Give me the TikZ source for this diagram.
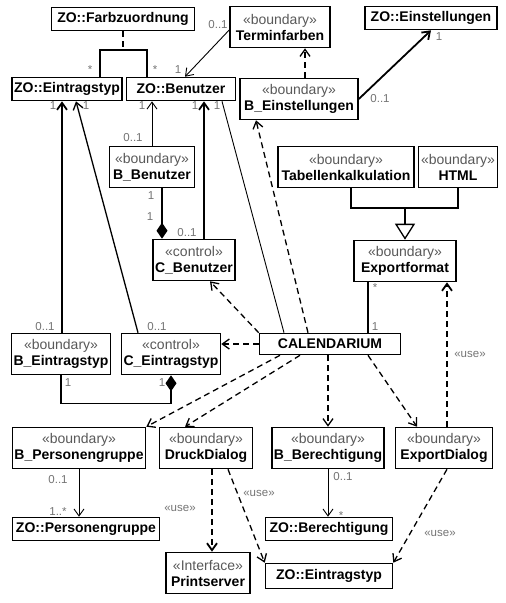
\documentclass[tikz,border=0pt]{standalone}
\usepackage{fontspec}
\setmainfont{Liberation Sans}
\usetikzlibrary{arrows.meta}
\newcommand\namefont{\fontsize{14}{16}\selectfont\bfseries}
\newcommand\stfont{\fontsize{14}{16}\selectfont\mdseries\color{black!65}}
\newcommand\stereo[2]{{\stfont«#1»}\\#2}

\begin{document}
\begin{tikzpicture}[x=1pt,y=-1pt,
  >={Straight Barb[length=7pt,width=10pt]},
  cls/.style={draw,line width=1.6pt,fill=white,font=\namefont,inner xsep=2pt,inner ysep=1pt,minimum height=23pt,minimum width=#1},
  cls/.default=0pt,
  scls/.style={cls=#1,align=center,minimum height=41pt},
  assoc/.style={line width=0.9pt},
  strong/.style={line width=1.8pt},
  dep/.style={line width=1.3pt,dash pattern=on 6pt off 4pt},
  usedep/.style={dep,line width=1.8pt},
  mult/.style={font=\fontsize{11.5}{12}\selectfont,text=black!55,inner sep=0pt},
  comp/.style={assoc,line width=1.3pt,{Diamond[length=16pt,width=11pt]}-},
  gen/.style={line width=1.3pt,-{Triangle[open,length=16pt,width=20pt]}}
]
\useasboundingbox (0,0) rectangle (506,603);

% classes
\node[cls=143] (farb) at (123,19) {ZO::Farbzuordnung};
\node[scls=100] (termf) at (280,27) {\stereo{boundary}{Terminfarben}};
\node[cls=132] (zeinst) at (431,18) {ZO::Einstellungen};
\node[cls=108] (zetyp) at (67,89) {ZO::Eintragstyp};
\node[cls=109] (zbenu) at (181,89) {ZO::Benutzer};
\node[scls=118] (beinst) at (299,99) {\stereo{boundary}{B\_Einstellungen}};
\node[scls=85] (bbenu) at (152,167) {\stereo{boundary}{B\_Benutzer}};
\node[scls=136] (tabk) at (346,167) {\stereo{boundary}{Tabellenkalkulation}};
\node[scls=79] (html) at (458,167) {\stereo{boundary}{HTML}};
\node[scls=82] (cbenu) at (194,260) {\stereo{control}{C\_Benutzer}};
\node[scls=102] (expf) at (405,261) {\stereo{boundary}{Exportformat}};
\node[scls=97] (beintr) at (61,354) {\stereo{boundary}{B\_Eintragstyp}};
\node[scls=98] (ceintr) at (171,354) {\stereo{control}{C\_Eintragstyp}};
\node[cls=141,minimum height=21pt] (cal) at (330,344) {CALENDARIUM};
\node[scls=133] (bperg) at (79,448) {\stereo{boundary}{B\_Personengruppe}};
\node[scls=93] (druck) at (206,448) {\stereo{boundary}{DruckDialog}};
\node[scls=111] (bber) at (328,448) {\stereo{boundary}{B\_Berechtigung}};
\node[scls=97] (expd) at (444,448) {\stereo{boundary}{ExportDialog}};
\node[cls=147] (zperg) at (86,529) {ZO::Personengruppe};
\node[cls=127] (zber) at (329,529) {ZO::Berechtigung};
\node[scls=84] (prints) at (208,573) {\stereo{Interface}{Printserver}};
\node[cls=127,minimum height=25pt] (zetyp2) at (329,576) {ZO::Eintragstyp};

% associations
\coordinate (fj) at (123,50);
\draw[usedep] (farb.south) -- (fj);
\draw[line width=1.6pt] ([xshift=33pt]zetyp.north) |- (fj) -| ([xshift=-34pt]zbenu.north);
\draw[assoc,->] ([yshift=-3pt]termf.west) -- ([xshift=4pt]zbenu.north);
\draw[dep,->] ([xshift=6pt]beinst.north) -- ([xshift=6pt]beinst.north |- termf.south);
\draw[strong,->] (beinst.east) -- (zeinst.south);
\draw[assoc,->] (bbenu.north) -- (bbenu.north |- zbenu.south);
\draw[strong,->] ([xshift=10pt]cbenu.north) -- ([xshift=10pt]cbenu.north |- zbenu.south);
\draw[assoc] ([xshift=-46pt]cal.north) -- ([xshift=41pt]zbenu.south);
\draw[comp] ([xshift=-32pt]cbenu.north) -- ([xshift=-32pt]cbenu.north |- bbenu.south);
\draw[strong,->] ([xshift=1pt]beintr.north) -- ([xshift=1pt]beintr.north |- zetyp.south);
\draw[assoc,line width=1.3pt,->] ([xshift=-33pt]ceintr.north) -- ([xshift=9pt]zetyp.south);
\draw[comp] (ceintr.south) -- ++(0,28) -| (beintr.south);
\draw[assoc,line width=1.3pt] ([xshift=38pt]cal.north) -- ([xshift=38pt]cal.north |- expf.south);
\draw[assoc,->] (bperg.south) -- (bperg.south |- zperg.north);
\draw[assoc,->] (bber.south) -- (bber.south |- zber.north);

% generalization
\coordinate (gj) at (405,208);
\draw[line width=1.3pt] ([xshift=5pt]tabk.south) |- (gj) -| (html.south);
\draw[gen] (gj) -- (expf.north);

% dependencies
\draw[usedep,->] ([xshift=3pt]expd.north) -- ([xshift=3pt]expd.north |- expf.south);
\draw[dep,->] (cal.north west) -- ([xshift=16pt]cbenu.south);
\draw[dep,->] (cal.west) -- (cal.west -| ceintr.east);
\draw[dep,->] ([xshift=-22pt]cal.north) -- ([xshift=-43pt]beinst.south);
\draw[dep,->] ([xshift=-50pt]cal.south) -- (bperg.north east);
\draw[dep,->] ([xshift=-30pt]cal.south) -- ([xshift=-21pt]druck.north);
\draw[dep,->] (bber.north |- cal.south) -- (bber.north);
\draw[dep,->] ([xshift=38pt]cal.south) -- ([xshift=-27pt]expd.north);
\draw[usedep,->] ([xshift=6pt]druck.south) -- ([xshift=6pt]druck.south |- prints.north);
\draw[dep,->] ([xshift=22pt]druck.south) -- (zetyp2.north west);
\draw[dep,->] ([xshift=3pt]expd.south) -- (zetyp2.north east);

% multiplicities
\foreach \x/\y/\lab [count=\i] in {90/70/*, 155/70/*, 178/70/1, 218/25/0..1, 439/37/1,
    380/99/0..1, 53/106/1, 86/106/1, 142/106/1, 195/106/1, 217/106/1, 133/138/0..1,
    151/196/1, 150/217/1, 187/233/0..1, 45/327/0..1, 157/327/0..1, 68/383/1, 162/383/1,
    375/288/*, 375/327/1, 58/480/0..1, 58/512/1..*, 343/477/0..1, 341/516/*}
  \node[mult] (m\i) at (\x,\y) {\lab};
\foreach \x/\y [count=\i] in {470/354, 180/508, 259/493, 440/533}
  \node[mult] (u\i) at (\x,\y) {«use»};
\end{tikzpicture}
\end{document}
